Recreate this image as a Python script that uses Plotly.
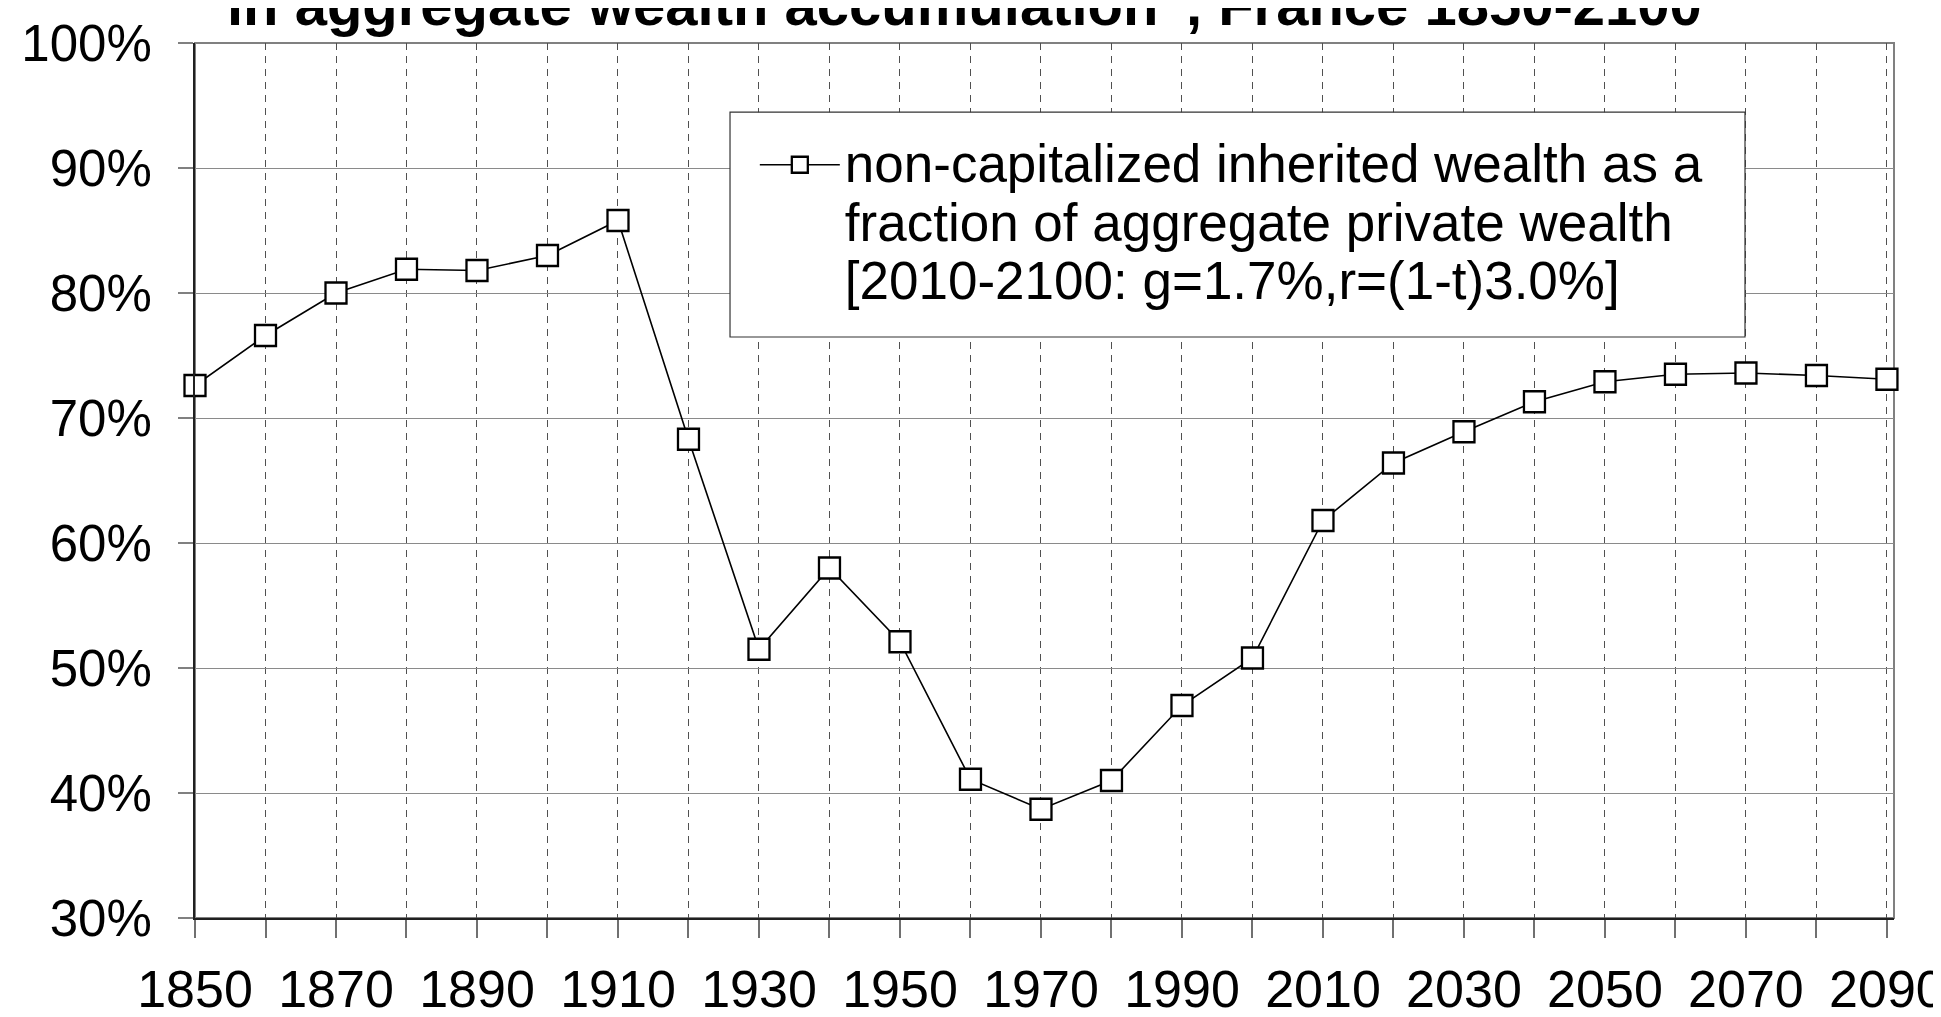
import plotly.graph_objects as go

years = [1850, 1860, 1870, 1880, 1890, 1900, 1910, 1920, 1930, 1940, 1950, 1960,
         1970, 1980, 1990, 2000, 2010, 2020, 2030, 2040, 2050, 2060, 2070, 2080, 2090]
share = [72.6, 76.6, 80.0, 81.9, 81.8, 83.0, 85.8, 68.3, 51.5, 58.0, 52.1, 41.1,
         38.7, 41.0, 47.0, 50.8, 61.8, 66.4, 68.9, 71.3, 72.9, 73.5, 73.6, 73.4, 73.1]
series_lines = ["non-capitalized inherited wealth as a",
                "fraction of aggregate private wealth",
                "[2010-2100: g=1.7%,r=(1-t)3.0%]"]
x_tick_vals = [1850, 1870, 1890, 1910, 1930, 1950, 1970, 1990, 2010, 2030, 2050, 2070, 2090]
y_tick_vals = [30, 40, 50, 60, 70, 80, 90, 100]
y_tick_text = ["30%", "40%", "50%", "60%", "70%", "80%", "90%", "100%"]
title_text = 'in aggregate wealth accumulation", France 1850-2100'

FONT = "Liberation Sans, Arial, sans-serif"

series_name = "<br>".join('<span style="font-size:53px">' + s + "</span>" for s in series_lines)

fig = go.Figure()
fig.add_trace(go.Scatter(
    x=years, y=share, mode="lines+markers", name=series_name,
    line=dict(color="black", width=1.6),
    marker=dict(symbol="square", size=21, color="white", line=dict(width=2.3, color="black")),
    cliponaxis=False,
))

fig.update_layout(
    width=1941, height=1017,
    margin=dict(l=187, r=55, t=35, b=107, autoexpand=False),
    paper_bgcolor="white", plot_bgcolor="white",
    font=dict(family=FONT, color="black", size=52),
    showlegend=True,
    legend=dict(
        x=0.3295, y=0.9017, xanchor="left", yanchor="top",
        orientation="h", entrywidth=880, itemwidth=80,
        bgcolor="rgba(0,0,0,0)", borderwidth=0,
        font=dict(size=45, family=FONT), valign="top",
    ),
    xaxis=dict(
        range=[1850, 2091], tickmode="array", tickvals=x_tick_vals,
        ticks="outside", ticklen=18, tickcolor="#707070", tickwidth=2,
        showline=True, linecolor="#202020", linewidth=2, mirror=False,
        showgrid=True, gridcolor="#505050", griddash="7px,6px", gridwidth=1,
        minor=dict(dtick=10, tick0=1850, ticks="outside", ticklen=18, tickcolor="#707070",
                   tickwidth=2, showgrid=True, gridcolor="#505050", griddash="7px,6px", gridwidth=1),
        tickfont=dict(size=52), ticklabelstandoff=7, ticklabeloverflow="allow",
        automargin=False, zeroline=False,
    ),
    yaxis=dict(
        range=[30, 100], tickmode="array", tickvals=y_tick_vals, ticktext=y_tick_text,
        ticks="outside", ticklen=15, tickcolor="#808080", tickwidth=2,
        showline=True, linecolor="#202020", linewidth=2, mirror=False,
        showgrid=True, gridcolor="#8a8a8a", gridwidth=1.3,
        tickfont=dict(size=51), ticklabelstandoff=16, ticklabeloverflow="allow",
        automargin=False, zeroline=False,
    ),
    shapes=[
        dict(type="rect", xref="paper", yref="paper", x0=0, x1=1, y0=0, y1=1,
             line=dict(color="#808080", width=2), layer="below"),
        dict(type="rect", xref="paper", yref="paper", x0=0.3149, x1=0.9123, y0=0.664, y1=0.921,
             line=dict(color="#333333", width=1.2), fillcolor="white", layer="above"),
    ],
    annotations=[dict(
        text="<b>" + title_text + "</b>", xref="paper", yref="paper",
        x=0.453, y=1.0, xanchor="center", yanchor="bottom", yshift=4,
        showarrow=False, font=dict(size=58, family=FONT, color="black"),
    )],
)

fig.write_html("out.html")
